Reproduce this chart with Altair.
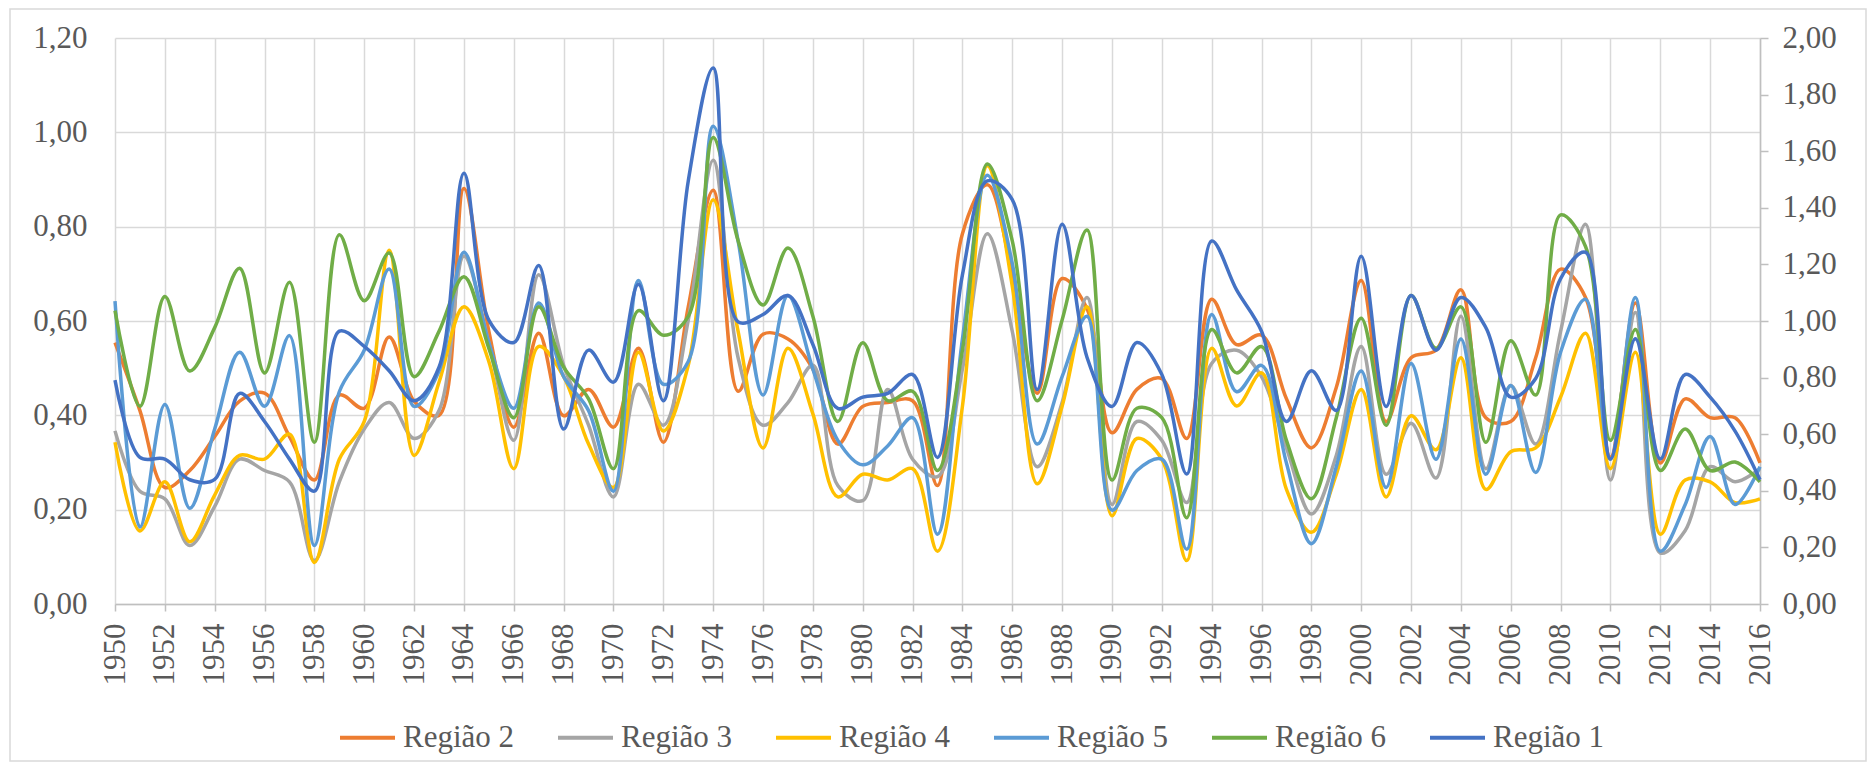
import altair as alt
import pandas as pd

anos = list(range(1950, 2017))

regiao_2 = [0.554, 0.41, 0.247, 0.283, 0.355, 0.43, 0.447, 0.355, 0.263, 0.443, 0.415, 0.566,
            0.43, 0.40, 0.881, 0.578, 0.375, 0.574, 0.399, 0.455, 0.375, 0.542, 0.343,
            0.63, 0.877, 0.451, 0.572, 0.562, 0.498, 0.339, 0.419, 0.427, 0.431, 0.251,
            0.785, 0.889, 0.70, 0.447, 0.69, 0.626, 0.363, 0.455, 0.478, 0.351, 0.646, 0.55,
            0.57, 0.435, 0.331, 0.459, 0.686, 0.387, 0.522, 0.538, 0.666, 0.395,
            0.387, 0.522, 0.71, 0.65, 0.311, 0.638, 0.299, 0.435, 0.395, 0.395, 0.299]

regiao_3 = [0.367, 0.239, 0.223, 0.124, 0.207, 0.307, 0.283, 0.259, 0.092, 0.259, 0.371, 0.427,
            0.351, 0.41, 0.738, 0.554, 0.347, 0.698, 0.506, 0.379, 0.227, 0.466, 0.379,
            0.602, 0.941, 0.522, 0.379, 0.427, 0.506, 0.251, 0.219, 0.455, 0.307, 0.27,
            0.498, 0.785, 0.578, 0.291, 0.427, 0.65, 0.211, 0.387, 0.347, 0.215, 0.51, 0.538,
            0.482, 0.331, 0.191, 0.315, 0.546, 0.275, 0.383, 0.267, 0.61, 0.287,
            0.463, 0.339, 0.578, 0.805, 0.263, 0.618, 0.108, 0.156, 0.291, 0.259, 0.287]

regiao_4 = [0.343, 0.155, 0.259, 0.132, 0.231, 0.315, 0.307, 0.36, 0.088, 0.307, 0.387, 0.75,
            0.315, 0.47, 0.63, 0.514, 0.287, 0.546, 0.482, 0.339, 0.247, 0.534, 0.367,
            0.506, 0.857, 0.578, 0.331, 0.542, 0.403, 0.227, 0.275, 0.263, 0.287, 0.112,
            0.419, 0.929, 0.674, 0.255, 0.419, 0.63, 0.187, 0.351, 0.307, 0.092, 0.542, 0.42,
            0.49, 0.243, 0.152, 0.275, 0.455, 0.227, 0.399, 0.327, 0.522, 0.243,
            0.323, 0.331, 0.439, 0.574, 0.287, 0.534, 0.148, 0.263, 0.259, 0.215, 0.223]

regiao_5 = [0.642, 0.163, 0.423, 0.203, 0.371, 0.534, 0.419, 0.569, 0.124, 0.45, 0.538, 0.71,
            0.419, 0.494, 0.746, 0.554, 0.415, 0.638, 0.482, 0.41, 0.239, 0.686, 0.466,
            0.514, 1.013, 0.77, 0.443, 0.654, 0.498, 0.347, 0.295, 0.335, 0.395, 0.148,
            0.562, 0.909, 0.722, 0.339, 0.482, 0.61, 0.199, 0.283, 0.307, 0.116, 0.614, 0.45,
            0.506, 0.299, 0.128, 0.291, 0.494, 0.247, 0.51, 0.307, 0.562, 0.275,
            0.463, 0.279, 0.534, 0.646, 0.307, 0.65, 0.112, 0.211, 0.355, 0.211, 0.291]

regiao_6 = [0.622, 0.419, 0.652, 0.494, 0.586, 0.712, 0.49, 0.682, 0.343, 0.783, 0.643, 0.744,
            0.482, 0.578, 0.694, 0.542, 0.395, 0.63, 0.502, 0.435, 0.287, 0.622, 0.57,
            0.61, 0.989, 0.77, 0.634, 0.755, 0.61, 0.387, 0.554, 0.431, 0.451, 0.283,
            0.538, 0.933, 0.77, 0.431, 0.602, 0.793, 0.263, 0.415, 0.395, 0.183, 0.582, 0.49,
            0.546, 0.347, 0.223, 0.395, 0.606, 0.379, 0.654, 0.542, 0.63, 0.343,
            0.558, 0.443, 0.825, 0.758, 0.347, 0.582, 0.283, 0.371, 0.283, 0.301, 0.259]

# Região 1 is plotted on the secondary (right) axis
regiao_1 = [0.791, 0.518, 0.512, 0.439, 0.44, 0.744, 0.645, 0.512, 0.399, 0.964, 0.91, 0.824,
            0.718, 0.837, 1.522, 1.003, 0.924, 1.196, 0.618, 0.897, 0.784, 1.13, 0.718,
            1.495, 1.894, 0.997, 1.023, 1.09, 0.917, 0.691, 0.731, 0.744, 0.811, 0.518,
            1.163, 1.495, 1.429, 0.758, 1.342, 0.871, 0.698, 0.924, 0.811, 0.459, 1.283, 1.11,
            0.964, 0.645, 0.824, 0.684, 1.229, 0.698, 1.09, 0.897, 1.083, 0.977,
            0.731, 0.797, 1.15, 1.243, 0.512, 0.937, 0.512, 0.811, 0.731, 0.611, 0.439]

series_primarias = ["Região 2", "Região 3", "Região 4", "Região 5", "Região 6"]
valores_primarios = [regiao_2, regiao_3, regiao_4, regiao_5, regiao_6]
serie_secundaria = "Região 1"
ordem_legenda = series_primarias + [serie_secundaria]
cores = ["#ED7D31", "#A5A5A5", "#FFC000", "#5B9BD5", "#70AD47", "#4472C4"]

ticks_esq = [0.0, 0.2, 0.4, 0.6, 0.8, 1.0, 1.2]
ticks_dir = [0.0, 0.2, 0.4, 0.6, 0.8, 1.0, 1.2, 1.4, 1.6, 1.8, 2.0]

rows = []
for nome, vals in zip(series_primarias, valores_primarios):
    for a, v in zip(anos, vals):
        rows.append({"ano": a, "valor": v, "serie": nome})
df_prim = pd.DataFrame(rows)
df_sec = pd.DataFrame({"ano": anos, "valor": regiao_1, "serie": serie_secundaria})

FONT = "Liberation Serif, Times New Roman, serif"
LBL = "#595959"
GRID = "#D9D9D9"
AXC = "#BFBFBF"
fmt = "replace(format(datum.value, '.2f'), '.', ',')"

x_enc = alt.X(
    "ano:Q",
    scale=alt.Scale(domain=[1950, 2016], nice=False, zero=False),
    axis=alt.Axis(
        values=anos,
        labelExpr="datum.value % 2 == 0 ? '' + datum.value : ''",
        labelAngle=270,
        labelFont=FONT, labelFontSize=31, labelColor=LBL,
        labelOverlap=False, labelPadding=12,
        tickSize=7, tickColor=AXC, tickWidth=1.5,
        domainColor=AXC, domainWidth=1.5,
        grid=True, gridColor=GRID, gridWidth=1.5,
        gridOpacity={"condition": {"test": "datum.value % 2 == 0", "value": 1}, "value": 0},
        title=None,
    ),
)

legenda = alt.Legend(
    orient="none", legendX=223, legendY=670, direction="horizontal", columns=6,
    symbolType="stroke", symbolSize=3025, symbolStrokeWidth=4,
    labelFont=FONT, labelFontSize=31, labelColor=LBL, labelOffset=6,
    columnPadding=35, title=None,
)
cor = alt.Color("serie:N", scale=alt.Scale(domain=ordem_legenda, range=cores),
                legend=legenda, sort=ordem_legenda)

prim = alt.Chart(df_prim).mark_line(strokeWidth=3.5, interpolate="catmull-rom").encode(
    x=x_enc,
    y=alt.Y("valor:Q",
            scale=alt.Scale(domain=[0, 1.2], nice=False),
            axis=alt.Axis(values=ticks_esq, labelExpr=fmt, domain=False, ticks=False,
                          labelPadding=28, labelFont=FONT, labelFontSize=31, labelColor=LBL,
                          grid=True, gridColor=GRID, gridWidth=1.5, title=None)),
    color=cor,
)

sec = alt.Chart(df_sec).mark_line(strokeWidth=3.5, interpolate="catmull-rom").encode(
    x=alt.X("ano:Q", scale=alt.Scale(domain=[1950, 2016], nice=False, zero=False)),
    y=alt.Y("valor:Q",
            scale=alt.Scale(domain=[0, 2.0], nice=False),
            axis=alt.Axis(orient="right", values=ticks_dir, labelExpr=fmt, grid=False,
                          domainColor=AXC, domainWidth=1.5, tickColor=AXC, tickWidth=1.5,
                          tickSize=8, labelPadding=14, labelFont=FONT, labelFontSize=31,
                          labelColor=LBL, title=None)),
    color=cor,
)

moldura = alt.Chart(pd.DataFrame({"k": [0]})).mark_rect(
    fill=None, fillOpacity=0, stroke=GRID, strokeWidth=1.5
).encode(
    x=alt.value(-105), x2=alt.value(1751), y=alt.value(-29), y2=alt.value(723)
)

chart = alt.layer(moldura, prim, sec).resolve_scale(y="independent").properties(
    width=1645, height=566,
    autosize=alt.AutoSizeParams(type="none"),
    padding={"left": 107, "top": 30, "right": 108, "bottom": 161},
).configure_view(stroke=None).configure_axis(
    labelFont=FONT
).configure_legend(labelFont=FONT)

chart.save("out.html", embed_options={"renderer": "svg", "actions": False})
